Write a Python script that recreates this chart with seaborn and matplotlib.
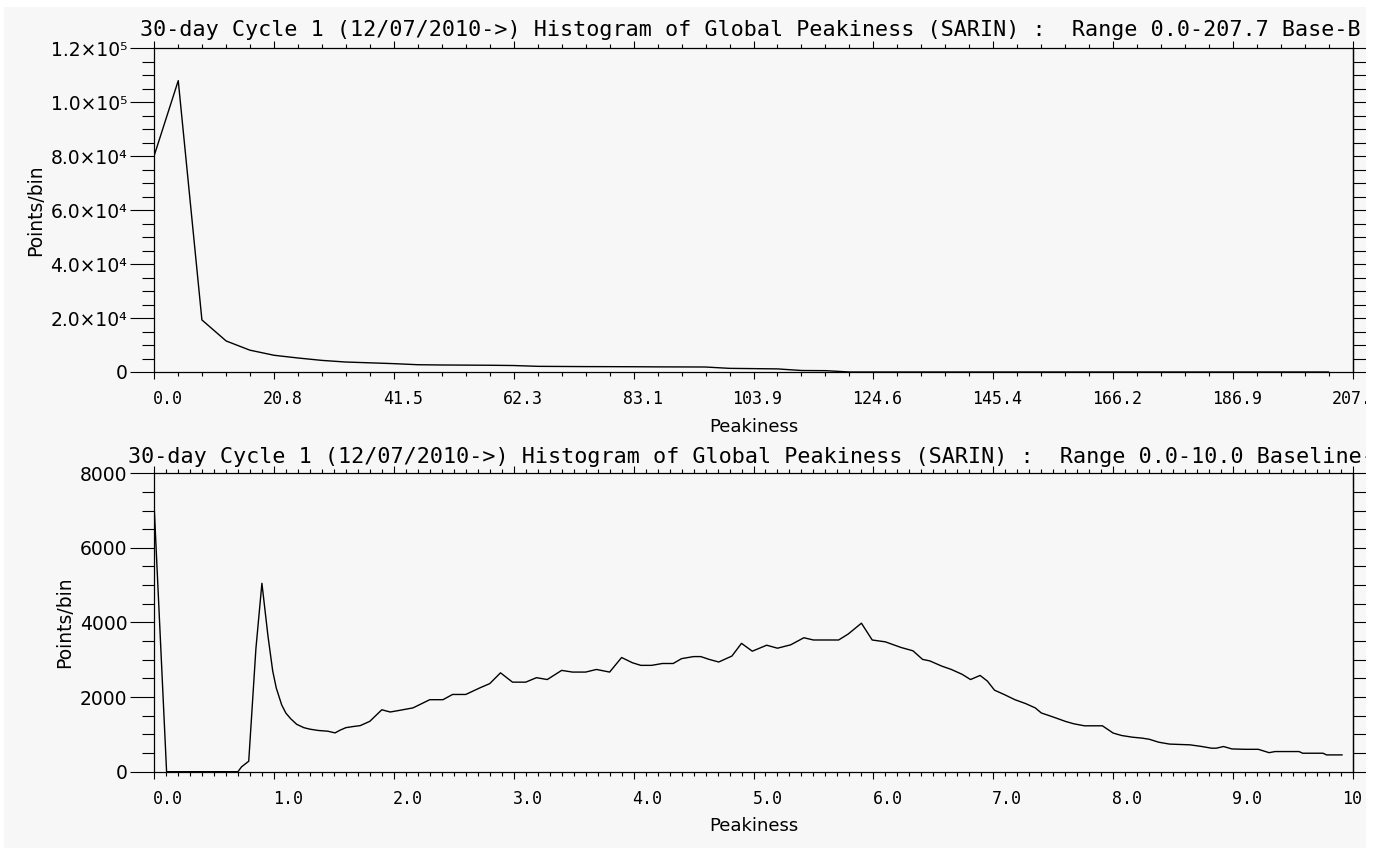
import numpy as np
import pandas as pd
import matplotlib
matplotlib.use("Agg")
import matplotlib.pyplot as plt
import seaborn as sns
from matplotlib.ticker import FixedLocator, FixedFormatter, NullLocator
from matplotlib.transforms import ScaledTranslation
from matplotlib.patches import Rectangle

# ---------------- data ----------------
top_peakiness = [0.0, 4.2, 8.3, 12.5, 16.6, 20.8, 24.9, 29.1, 33.2, 37.4,
                 41.5, 45.7, 49.8, 54.0, 58.2, 62.3, 66.5, 70.6, 74.8, 78.9,
                 83.1, 87.2, 91.4, 95.5, 99.7, 103.9, 108.0, 112.2, 116.3, 120.5,
                 124.6, 128.8, 132.9, 137.1, 141.2, 145.4, 149.5, 153.7, 157.8, 162.0,
                 166.2, 170.3, 174.5, 178.6, 182.8, 186.9, 191.1, 195.2, 199.4, 203.5]
top_counts = [80000, 108000, 19300, 11500, 8100, 6200, 5200, 4300, 3700, 3400,
              3100, 2700, 2600, 2550, 2500, 2400, 2100, 2050, 2000, 1980,
              1950, 1900, 1880, 1850, 1350, 1250, 1150, 550, 500, 0,
              0, 0, 0, 0, 0, 0, 0, 0, 0, 0,
              0, 0, 0, 0, 0, 0, 0, 0, 0, 0]

bottom_peakiness = [0.00, 0.105, 0.70, 0.73, 0.79, 0.85, 0.90, 0.95, 0.99, 1.02,
                    1.065, 1.10, 1.14, 1.19, 1.25, 1.30, 1.37, 1.45, 1.51, 1.55,
                    1.60, 1.66, 1.72, 1.80, 1.90, 1.97, 2.05, 2.16, 2.30, 2.41,
                    2.49, 2.60, 2.72, 2.80, 2.89, 2.99, 3.10, 3.19, 3.28, 3.40,
                    3.49, 3.60, 3.69, 3.80, 3.90, 3.99, 4.06, 4.15, 4.24, 4.33,
                    4.40, 4.50, 4.56, 4.63, 4.71, 4.82, 4.90, 4.99, 5.11, 5.20,
                    5.31, 5.42, 5.50, 5.71, 5.79, 5.90, 5.99, 6.10, 6.23, 6.33,
                    6.41, 6.47, 6.57, 6.65, 6.74, 6.81, 6.89, 6.95, 7.01, 7.09,
                    7.18, 7.27, 7.35, 7.40, 7.50, 7.60, 7.67, 7.76, 7.91, 8.00,
                    8.07, 8.16, 8.24, 8.30, 8.38, 8.47, 8.64, 8.74, 8.82, 8.86,
                    8.92, 8.99, 9.10, 9.21, 9.30, 9.35, 9.55, 9.58, 9.75, 9.78,
                    9.91]
bottom_counts = [7200, 0, 0, 130, 280, 3300, 5050, 3650, 2700, 2240,
                 1790, 1570, 1420, 1270, 1180, 1140, 1105, 1085, 1040, 1110,
                 1180, 1210, 1235, 1350, 1660, 1600, 1645, 1710, 1930, 1930,
                 2070, 2070, 2250, 2360, 2650, 2400, 2400, 2520, 2470, 2715,
                 2670, 2670, 2740, 2670, 3060, 2920, 2850, 2850, 2900, 2900,
                 3030, 3085, 3085, 3010, 2940, 3100, 3440, 3230, 3390, 3310,
                 3400, 3590, 3530, 3530, 3690, 3980, 3530, 3480, 3330, 3240,
                 3010, 2970, 2830, 2740, 2610, 2470, 2580, 2430, 2185, 2070,
                 1930, 1825, 1710, 1575, 1465, 1350, 1285, 1230, 1230, 1035,
                 970, 925, 900, 870, 790, 740, 720, 675, 630, 630,
                 675, 610, 600, 600, 510, 540, 540, 495, 495, 450,
                 450]

top_xtick_labels = ["0.0", "20.8", "41.5", "62.3", "83.1", "103.9", "124.6",
                    "145.4", "166.2", "186.9", "207.7"]
top_ytick_labels = ["0", "2.0×10⁴", "4.0×10⁴", "6.0×10⁴", "8.0×10⁴",
                    "1.0×10⁵", "1.2×10⁵"]
bottom_xtick_labels = ["0.0", "1.0", "2.0", "3.0", "4.0", "5.0", "6.0",
                       "7.0", "8.0", "9.0", "10.0"]
bottom_ytick_labels = ["0", "2000", "4000", "6000", "8000"]

title_top = ("30-day Cycle 1 (12/07/2010->) Histogram of Global Peakiness (SARIN) :  "
             "Range 0.0-207.7 Base-B")
title_bottom = ("30-day Cycle 1 (12/07/2010->) Histogram of Global Peakiness (SARIN) :  "
                "Range 0.0-10.0 Baseline-")

# ---------------- style ----------------
BG = "#f7f7f7"
MONO = ["DejaVu Sans Mono", "DejaVu Sans"]
sns.set_theme(style="ticks")
plt.rcParams["font.family"] = ["DejaVu Sans"]
plt.rcParams.update({
    "figure.facecolor": BG, "axes.facecolor": BG, "axes.edgecolor": "black",
    "axes.linewidth": 0.9, "xtick.color": "black", "ytick.color": "black",
    "text.color": "black", "axes.labelcolor": "black",
})

W, H = 1381, 848
fig = plt.figure(figsize=(W / 100, H / 100), dpi=100)
ax1 = fig.add_axes([154 / W, 1 - 372 / H, 1199 / W, 323.7 / H])
ax2 = fig.add_axes([154 / W, 1 - 771.7 / H, 1199 / W, 298.5 / H])

top_df = pd.DataFrame({"Peakiness": top_peakiness, "Points/bin": top_counts})
bot_df = pd.DataFrame({"Peakiness": bottom_peakiness, "Points/bin": bottom_counts})

sns.lineplot(data=top_df, x="Peakiness", y="Points/bin", ax=ax1, color="black",
             linewidth=1.0, estimator=None)
sns.lineplot(data=bot_df, x="Peakiness", y="Points/bin", ax=ax2, color="black",
             linewidth=1.0, estimator=None)


def style(ax, xmax, nx_major, nx_minor_per, xlabels, ymax, ny_major, ny_minor_per, ylabels):
    ax.set_xlim(0, xmax)
    ax.set_ylim(0, ymax)
    xmaj = np.linspace(0, xmax, nx_major + 1)
    xmin = np.linspace(0, xmax, nx_major * nx_minor_per + 1)
    ymaj = np.linspace(0, ymax, ny_major + 1)
    ymin = np.linspace(0, ymax, ny_major * ny_minor_per + 1)
    ax.xaxis.set_major_locator(FixedLocator(xmaj))
    ax.xaxis.set_major_formatter(FixedFormatter(xlabels))
    ax.xaxis.set_minor_locator(FixedLocator(xmin))
    ax.yaxis.set_major_locator(FixedLocator(ymaj))
    ax.yaxis.set_major_formatter(FixedFormatter(ylabels))
    ax.yaxis.set_minor_locator(FixedLocator(ymin))
    ax.tick_params(axis="x", which="major", direction="out", length=5, width=0.8,
                   top=True, bottom=True, labelsize=12, pad=8)
    ax.tick_params(axis="x", which="minor", direction="out", length=2.9, width=0.8,
                   top=True, bottom=True)
    ax.tick_params(axis="y", which="major", direction="out", length=17.3, width=0.8,
                   left=True, right=False, labelsize=13.5, pad=2)
    ax.tick_params(axis="y", which="minor", direction="out", length=8.6, width=0.8,
                   left=True, right=False)
    for lbl in ax.get_xticklabels():
        lbl.set_fontfamily(MONO)
    sec = ax.secondary_yaxis("right")
    sec.yaxis.set_major_locator(FixedLocator(ymin))
    sec.yaxis.set_minor_locator(NullLocator())
    sec.tick_params(direction="out", length=9.4, width=0.8, labelright=False)
    sec.spines["right"].set_linewidth(0.9)
    ax.set_xlabel("Peakiness", fontsize=13, labelpad=7)
    ax.set_ylabel("Points/bin", fontsize=13.5, labelpad=4)
    for s in ax.spines.values():
        s.set_visible(True)
        s.set_linewidth(0.9)
        s.set_color("black")


style(ax1, 207.7, 10, 5, top_xtick_labels, 1.2e5, 6, 4, top_ytick_labels)
style(ax2, 10.0, 10, 10, bottom_xtick_labels, 8000, 4, 4, bottom_ytick_labels)

title_font = dict(fontsize=15.7, family=MONO, ha="left", va="baseline")
fig.text(140 / W, 1 - 36.5 / H, title_top, **title_font)
fig.text(128 / W, 1 - 463.3 / H, title_bottom, **title_font)

# white border of the original screenshot
for rect in [(0, 1 - 7 / H, 1, 7 / H), (0, 0, 4 / W, 1), (1366 / W, 0, 15 / W, 1)]:
    fig.add_artist(Rectangle(rect[:2], rect[2], rect[3], transform=fig.transFigure,
                             facecolor="white", edgecolor="none", zorder=100))

# IDL-like tick label placement: right edge ~29 px right of the tick
fig.canvas.draw()
shift = ScaledTranslation(0.29, 0, fig.dpi_scale_trans)
for ax in (ax1, ax2):
    for lbl in ax.get_xticklabels():
        lbl.set_fontfamily(MONO)
        lbl.set_horizontalalignment("right")
        lbl.set_transform(lbl.get_transform() + shift)

fig.savefig("out.png", dpi=100, facecolor=fig.get_facecolor())
